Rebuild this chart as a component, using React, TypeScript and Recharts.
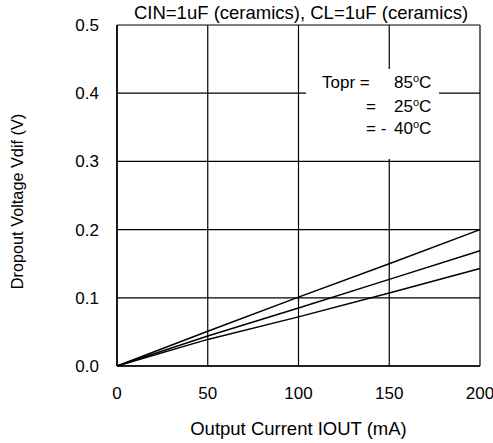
import React from 'react';
import { LineChart, Line, XAxis, YAxis, CartesianGrid } from 'recharts';

const currents = [0, 50, 100, 150, 200];
const vdif85 = [0, 0.051, 0.101, 0.150, 0.200];
const vdif25 = [0, 0.044, 0.085, 0.127, 0.169];
const vdifM40 = [0, 0.039, 0.072, 0.107, 0.143];
const xTicks = [0, 50, 100, 150, 200];
const yTicks = [0, 0.1, 0.2, 0.3, 0.4, 0.5];

const data = currents.map((c, i) => ({ x: c, t85: vdif85[i], t25: vdif25[i], tm40: vdifM40[i] }));

const FONT = '"Liberation Sans", Arial, sans-serif';
const FS = 17;

const Deg = () => (
  <span style={{ fontSize: 11, position: 'relative', top: -6 }}>o</span>
);

export default function App() {
  return (
    <div style={{ position: 'absolute', left: 0, top: 0, width: 493, height: 443, background: '#fff', fontFamily: FONT }}>
      <LineChart width={493} height={443} data={data} margin={{ top: 25, right: 13, bottom: 0, left: 0 }}>
        <CartesianGrid stroke="#000" strokeWidth={1.2} />
        <XAxis
          dataKey="x"
          type="number"
          domain={[0, 200]}
          ticks={xTicks}
          height={77}
          tickLine={false}
          tickSize={0}
          tickMargin={21}
          axisLine={{ stroke: '#000', strokeWidth: 1.5 }}
          tick={{ fill: '#000', fontSize: FS, fontFamily: FONT }}
          label={(p: any) => {
            const vb = p.viewBox;
            return (
              <text x={vb.x + vb.width / 2} y={435} textAnchor="middle" fill="#000" fontSize={18.5} fontFamily={FONT}>
                Output Current IOUT (mA)
              </text>
            );
          }}
        />
        <YAxis
          type="number"
          domain={[0, 0.5]}
          ticks={yTicks}
          width={117}
          tickLine={false}
          tickSize={0}
          tickMargin={18}
          tickFormatter={(v: number) => v.toFixed(1)}
          axisLine={{ stroke: '#000', strokeWidth: 1.5 }}
          tick={{ fill: '#000', fontSize: FS, fontFamily: FONT }}
          label={(p: any) => {
            const vb = p.viewBox;
            const cy = vb.y + vb.height / 2 + 6;
            return (
              <text x={23} y={cy} transform={`rotate(-90 23 ${cy})`} textAnchor="middle" fill="#000" fontSize={16.3} fontFamily={FONT}>
                Dropout Voltage Vdif (V)
              </text>
            );
          }}
        />
        <Line type="linear" dataKey="t85" stroke="#000" strokeWidth={1.5} dot={false} isAnimationActive={false} />
        <Line type="linear" dataKey="t25" stroke="#000" strokeWidth={1.5} dot={false} isAnimationActive={false} />
        <Line type="linear" dataKey="tm40" stroke="#000" strokeWidth={1.5} dot={false} isAnimationActive={false} />
      </LineChart>
      <div style={{ position: 'absolute', left: 100, width: 402, top: 2, textAlign: 'center', fontSize: 18.5, lineHeight: '22px', color: '#000', whiteSpace: 'nowrap' }}>
        CIN=1uF (ceramics), CL=1uF (ceramics)
      </div>
      <div style={{ position: 'absolute', left: 306, top: 69, width: 133, height: 90, background: '#fff', color: '#000', fontSize: FS }}>
        <div style={{ position: 'absolute', left: 16, top: 4, whiteSpace: 'nowrap', lineHeight: '20px' }}>Topr =</div>
        <div style={{ position: 'absolute', left: 60, top: 28, whiteSpace: 'nowrap', lineHeight: '20px' }}>=</div>
        <div style={{ position: 'absolute', left: 60, top: 50, whiteSpace: 'nowrap', lineHeight: '20px' }}>= -</div>
        <div style={{ position: 'absolute', left: 88, top: 4, whiteSpace: 'nowrap', lineHeight: '20px' }}>85<Deg />C</div>
        <div style={{ position: 'absolute', left: 88, top: 28, whiteSpace: 'nowrap', lineHeight: '20px' }}>25<Deg />C</div>
        <div style={{ position: 'absolute', left: 88, top: 50, whiteSpace: 'nowrap', lineHeight: '20px' }}>40<Deg />C</div>
      </div>
    </div>
  );
}
